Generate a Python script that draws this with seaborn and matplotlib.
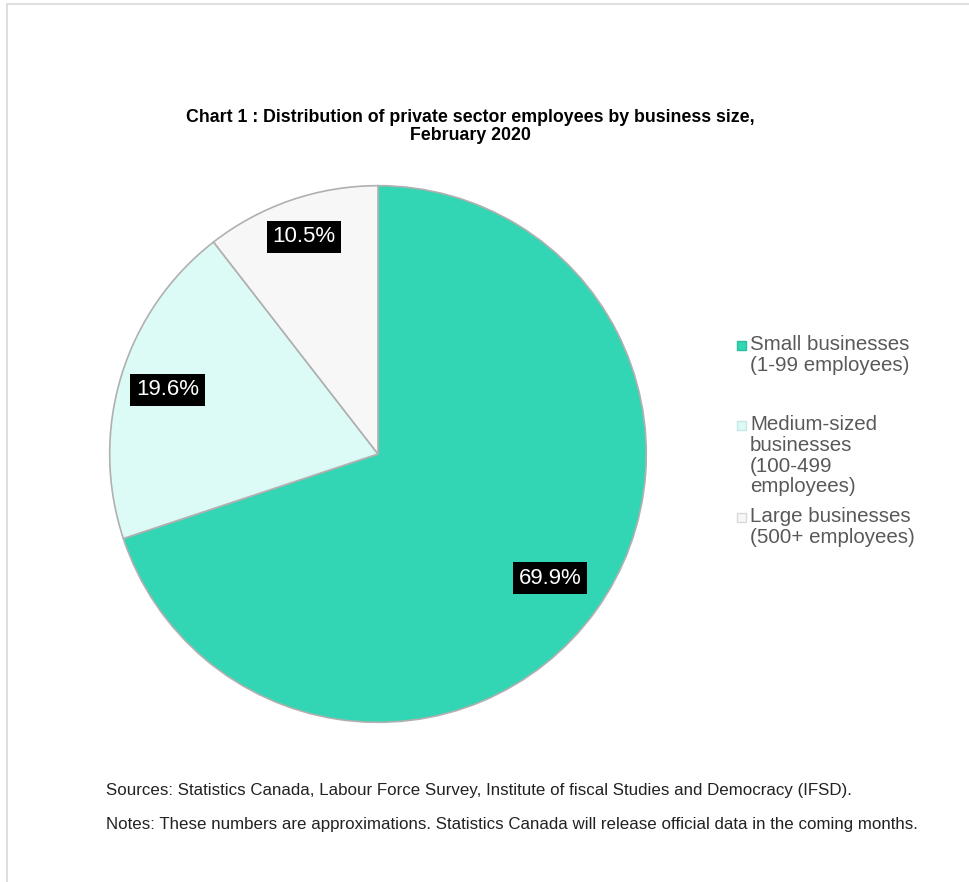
import matplotlib
matplotlib.use("Agg")
import numpy as np
import matplotlib.pyplot as plt
import seaborn as sns
from matplotlib.patches import Rectangle
from matplotlib.lines import Line2D

sns.set_theme(style="white")
plt.rcParams['font.family'] = ['Liberation Sans', 'DejaVu Sans']

# Data
categories = ["Small businesses\n(1-99 employees)",
              "Medium-sized\nbusinesses\n(100-499\nemployees)",
              "Large businesses\n(500+ employees)"]
shares = [69.9, 19.6, 10.5]
colors = ["#33D6B4", "#DCFBF6", "#F7F7F7"]
marker_colors = ["#2BBFA0", "#C9E6E2", "#D9D9D9"]
title = "Chart 1 : Distribution of private sector employees by business size,\nFebruary 2020"
source_note = "Sources: Statistics Canada, Labour Force Survey, Institute of fiscal Studies and Democracy (IFSD)."
notes = "Notes: These numbers are approximations. Statistics Canada will release official data in the coming months."

W, H = 969, 882
fig = plt.figure(figsize=(W / 100, H / 100), dpi=100)
fig.patch.set_facecolor("white")

# frame lines (left, top)
fig.add_artist(Line2D([7 / W, 7 / W], [0, 1 - 4 / H], color="#d9d9d9", lw=1.2))
fig.add_artist(Line2D([7 / W, 1], [1 - 4 / H, 1 - 4 / H], color="#d9d9d9", lw=1.2))

cx, cy, r = 378, 454, 271
ax = fig.add_axes([(cx - r) / W, 1 - (cy + r) / H, 2 * r / W, 2 * r / H])
wedges, texts, autotexts = ax.pie(
    shares, colors=colors, startangle=90, counterclock=False,
    autopct="%.1f%%", pctdistance=0.81, radius=1,
    wedgeprops=dict(edgecolor="#b0b0b0", linewidth=1.2),
    textprops=dict(color="white", fontsize=16),
)
label_dist = [0.79, 0.82, 0.855]
for w, t, d in zip(wedges, autotexts, label_dist):
    ang = np.deg2rad((w.theta1 + w.theta2) / 2)
    t.set_position((d * np.cos(ang), d * np.sin(ang)))
    t.set_bbox(dict(facecolor="black", edgecolor="none", boxstyle="square,pad=0.25"))
ax.set_xlim(-1.01, 1.01)
ax.set_ylim(-1.01, 1.01)
ax.set_aspect("equal")
ax.axis("off")

# Title
fig.text(470 / W, 1 - 117 / H, title.split("\n")[0], ha="center", va="center",
         fontsize=12.8, fontweight="bold", color="black")
fig.text(470 / W, 1 - 136 / H, title.split("\n")[1], ha="center", va="center",
         fontsize=12.8, fontweight="bold", color="black")

# Legend (manual, to match spacing)
leg_first = [345, 425, 517]
line_h = 20.5
for lab, col, mc, ty in zip(categories, colors, marker_colors, leg_first):
    fig.add_artist(Rectangle((737 / W, 1 - (ty + 5) / H), 9 / W, 9 / H,
                             facecolor=col, edgecolor=mc, lw=1.0))
    for i, line in enumerate(lab.split("\n")):
        fig.text(750 / W, 1 - (ty + i * line_h) / H, line, ha="left", va="center",
                 fontsize=14.8, color="#595959")

# Footer
fig.text(106 / W, 1 - 791 / H, source_note, ha="left", va="center",
         fontsize=12.2, color="#222222")
fig.text(106 / W, 1 - 824 / H, notes, ha="left", va="center",
         fontsize=12.2, color="#222222")

fig.savefig("out.png", dpi=100, facecolor="white")
